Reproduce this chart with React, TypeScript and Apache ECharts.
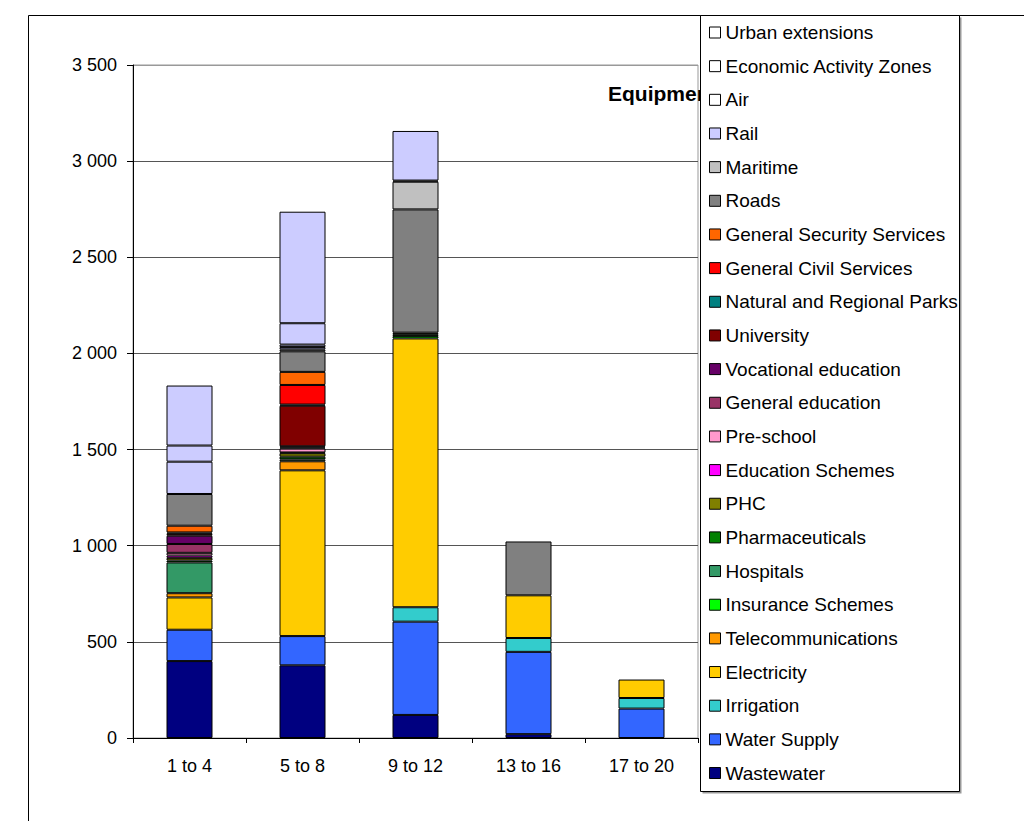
import React, { useEffect, useRef } from "react";
import * as echarts from "echarts";

// Period categories on the x axis
const categories = ["1 to 4", "5 to 8", "9 to 12", "13 to 16", "17 to 20"];

// Y axis range and tick step
const yMin = 0;
const yMax = 3500;
const yStep = 500;

// Series values per period, listed from the bottom of the stack upwards
const wastewater = [400, 378, 120, 20, 0];
const waterSupply = [163, 152, 485, 428, 153];
const irrigation = [0, 0, 75, 72, 55];
const electricity = [168, 862, 1398, 222, 96];
const telecommunications = [22, 47, 0, 0, 0];
const insuranceSchemes = [0, 0, 12, 0, 0];
const hospitals = [160, 10, 0, 0, 0];
const pharmaceuticals = [10, 14, 10, 0, 0];
const phc = [14, 18, 8, 0, 0];
const educationSchemes = [12, 4, 0, 0, 0];
const preSchool = [14, 20, 0, 0, 0];
const generalEducation = [46, 6, 0, 0, 0];
const vocationalEducation = [43, 6, 0, 0, 0];
const university = [10, 211, 0, 0, 0];
const naturalParks = [7, 6, 0, 0, 0];
const generalCivil = [0, 102, 0, 0, 0];
const generalSecurity = [35, 68, 0, 0, 0];
const roads = [165, 107, 641, 280, 0];
const maritime = [0, 10, 144, 0, 0];
const rail = [168, 12, 6, 0, 0];
const air = [0, 13, 0, 0, 0];
const economicZones = [84, 111, 0, 0, 0];
const urbanExtensions = [312, 580, 258, 0, 0];

type SeriesDef = { name: string; data: number[]; color: string; key?: string };

const seriesDefs: SeriesDef[] = [
  { name: "Wastewater", data: wastewater, color: "#000080" },
  { name: "Water Supply", data: waterSupply, color: "#3366FF" },
  { name: "Irrigation", data: irrigation, color: "#33CCCC" },
  { name: "Electricity", data: electricity, color: "#FFCC00" },
  { name: "Telecommunications", data: telecommunications, color: "#FF9900" },
  { name: "Insurance Schemes", data: insuranceSchemes, color: "#00FF00" },
  { name: "Hospitals", data: hospitals, color: "#339966" },
  { name: "Pharmaceuticals", data: pharmaceuticals, color: "#008000" },
  { name: "PHC", data: phc, color: "#808000" },
  { name: "Education Schemes", data: educationSchemes, color: "#FF00FF" },
  { name: "Pre-school", data: preSchool, color: "#FF99CC" },
  { name: "General education", data: generalEducation, color: "#993366" },
  { name: "Vocational education", data: vocationalEducation, color: "#660066" },
  { name: "University", data: university, color: "#800000" },
  { name: "Natural and Regional Parks", data: naturalParks, color: "#008080" },
  { name: "General Civil Services", data: generalCivil, color: "#FF0000" },
  { name: "General Security Services", data: generalSecurity, color: "#FF6600" },
  { name: "Roads", data: roads, color: "#808080" },
  { name: "Maritime", data: maritime, color: "#C0C0C0" },
  { name: "Rail", data: rail, color: "#CCCCFF" },
  { name: "Air", data: air, color: "#CCCCFF", key: "#FFFFFF" },
  { name: "Economic Activity Zones", data: economicZones, color: "#CCCCFF", key: "#FFFFFF" },
  { name: "Urban extensions", data: urbanExtensions, color: "#CCCCFF", key: "#FFFFFF" },
];

const FONT = '"Liberation Sans", Arial, sans-serif';

function formatThousands(v: number): string {
  if (v < 1000) return String(v);
  const thousands = Math.floor(v / 1000);
  const rest = String(v % 1000).padStart(3, "0");
  return `${thousands} ${rest}`;
}

export default function App() {
  const ref = useRef<HTMLDivElement>(null);

  useEffect(() => {
    if (!ref.current) return;
    const chart = echarts.init(ref.current, undefined, { renderer: "svg" });

    const splitColors: string[] = [];
    for (let v = yMin; v <= yMax; v += yStep) splitColors.push(v === yMax ? "#999999" : "#555555");

    const legendData = seriesDefs
      .slice()
      .reverse()
      .map((s) => (s.key ? { name: s.name, itemStyle: { color: s.key } } : { name: s.name }));

    chart.setOption({
      animation: false,
      backgroundColor: "#ffffff",
      textStyle: { fontFamily: FONT },
      grid: {
        left: 133,
        right: 326,
        top: 65,
        bottom: 83,
        show: true,
        borderColor: "#999999",
        borderWidth: 1,
        backgroundColor: "transparent",
      },
      xAxis: {
        type: "category",
        data: categories,
        axisLine: { show: true, lineStyle: { color: "#000", width: 1 } },
        axisTick: { show: true, length: 5, lineStyle: { color: "#000" } },
        axisLabel: { color: "#000", fontSize: 18, fontFamily: FONT, margin: 19 },
        splitLine: { show: false },
      },
      yAxis: {
        type: "value",
        min: yMin,
        max: yMax,
        interval: yStep,
        axisLine: { show: true, lineStyle: { color: "#000", width: 1 } },
        axisTick: { show: true, length: 6, lineStyle: { color: "#000" } },
        axisLabel: {
          color: "#000",
          fontSize: 18,
          fontFamily: FONT,
          margin: 16,
          formatter: (v: number) => formatThousands(v),
        },
        splitLine: { show: true, lineStyle: { color: splitColors, width: 1 } },
      },
      legend: {
        orient: "vertical",
        left: 709,
        top: 22.5,
        padding: 0,
        itemWidth: 11,
        itemHeight: 11,
        itemGap: 13.66,
        icon: "rect",
        selectedMode: false,
        z: 10,
        textStyle: { fontSize: 19, lineHeight: 20, color: "#000", fontFamily: FONT },
        itemStyle: { borderColor: "#000", borderWidth: 1 },
        data: legendData,
      },
      graphic: [
        {
          type: "rect",
          z: 0,
          silent: true,
          shape: { x: 28.5, y: 15.5, width: 1100, height: 900 },
          style: { fill: "none", stroke: "#000", lineWidth: 1 },
        },
        {
          type: "text",
          z: 1,
          silent: true,
          x: 608,
          y: 93,
          style: {
            text: "Equipment",
            font: `bold 21px ${FONT}`,
            fill: "#000",
            verticalAlign: "middle",
          },
        },
        {
          type: "rect",
          z: 8,
          silent: true,
          shape: { x: 702.5, y: 17.5, width: 259, height: 776 },
          style: { fill: "#999999", stroke: "none" },
        },
        {
          type: "rect",
          z: 9,
          silent: true,
          shape: { x: 700.5, y: 15.5, width: 259, height: 776 },
          style: { fill: "#ffffff", stroke: "#000", lineWidth: 1 },
        },
      ],
      series: seriesDefs.map((s) => ({
        name: s.name,
        type: "bar",
        stack: "total",
        barWidth: 46,
        data: s.data.map((v) => (v === 0 ? null : v)),
        itemStyle: { color: s.color, borderColor: "#000", borderWidth: 1 },
        emphasis: { disabled: true },
      })),
    });

    return () => chart.dispose();
  }, []);

  return (
    <div
      ref={ref}
      style={{ position: "fixed", left: 0, top: 0, width: 1024, height: 821 }}
    />
  );
}
